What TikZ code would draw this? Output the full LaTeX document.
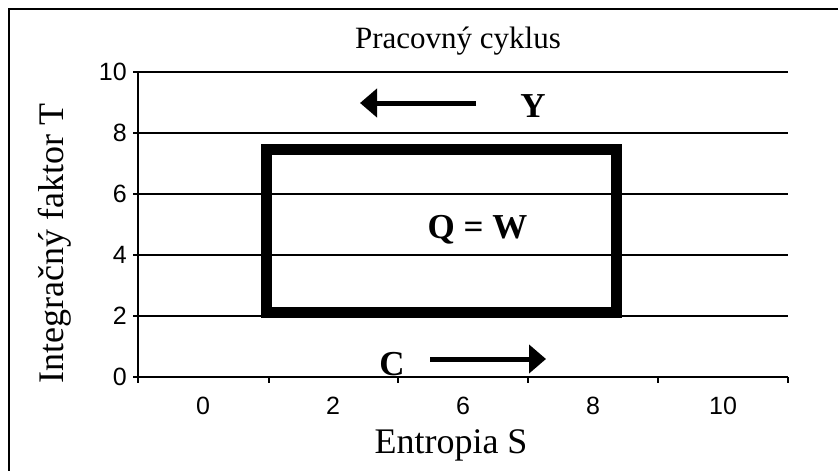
\documentclass[tikz,border=0pt]{standalone}
\usepackage{fontspec}
\setmainfont{Liberation Serif}
\newfontfamily\arialfont{Liberation Sans}
\usetikzlibrary{arrows.meta}

% one level of the T axis: gridline, tick and number
\newcommand{\tlevel}[2]{%
  \draw[gridln] (138,#1) -- (788,#1);
  \draw[axisln] (133,#1) -- (138,#1);
  \node[ticklab,anchor=east] (t#2) at (127,#1) {#2};
}
% one category of the S axis: tick and number
\newcommand{\scat}[3]{%
  \draw[axisln] (#1,377) -- (#1,383);
  \node[ticklab] (s#3) at (#2,406) {#3};
}

\begin{document}
\begin{tikzpicture}[x=1pt,y=-1pt,
    gridln/.style={line width=1.3pt},
    axisln/.style={line width=1.5pt},
    ticklab/.style={font=\arialfont\fontsize{25}{30}\selectfont,inner sep=0pt},
    bigtxt/.style={font=\fontsize{36}{42}\selectfont,inner sep=0pt,anchor=base},
    boldtxt/.style={font=\bfseries\fontsize{35}{42}\selectfont,inner sep=0pt,anchor=base},
    flow/.style={line width=5pt,-{Triangle[length=17pt,width=28pt]}}]
  \useasboundingbox (0,0) rectangle (838,471);
  \fill[white] (0,0) rectangle (838,471);
  % outer frame, cut by the page on the right and at the bottom
  \draw[line width=1.5pt] (9,471) -- (9,9) -- (838,9);

  \tlevel{72}{10}
  \tlevel{133}{8}
  \tlevel{194}{6}
  \tlevel{255}{4}
  \tlevel{316}{2}
  \draw[axisln] (133,377) -- (138,377);
  \node[ticklab,anchor=east] (t0) at (127,377) {0};

  \draw[axisln] (138,72) -- (138,377) -- (788,377);
  \draw[axisln] (138,377) -- (138,383);
  \scat{269}{203}{0}
  \scat{398}{333}{2}
  \scat{528}{463}{6}
  \scat{658}{593}{8}
  \scat{788}{723}{10}

  % the cycle
  \draw[line width=11pt] (266.5,149.5) rectangle (616.5,312.5);

  \node[font=\fontsize{31}{37}\selectfont,inner sep=0pt,anchor=base] (title) at (458,48) {Pracovný cyklus};
  \node[bigtxt] (sname) at (451,453) {Entropia S};
  \node[bigtxt,rotate=90] (tname) at (63,243.5) {Integračný faktor T};

  \node[boldtxt] (qw) at (477.5,238) {Q = W};
  \node[boldtxt] (ylab) at (533,117) {Y};
  \node[boldtxt] (clab) at (392,375) {C};

  \coordinate (ytail) at (476,103);
  \coordinate (yhead) at (360,103);
  \coordinate (ctail) at (430,359);
  \coordinate (chead) at (546,359);
  \draw[flow] (ytail) -- (yhead);
  \draw[flow] (ctail) -- (chead);
\end{tikzpicture}
\end{document}
